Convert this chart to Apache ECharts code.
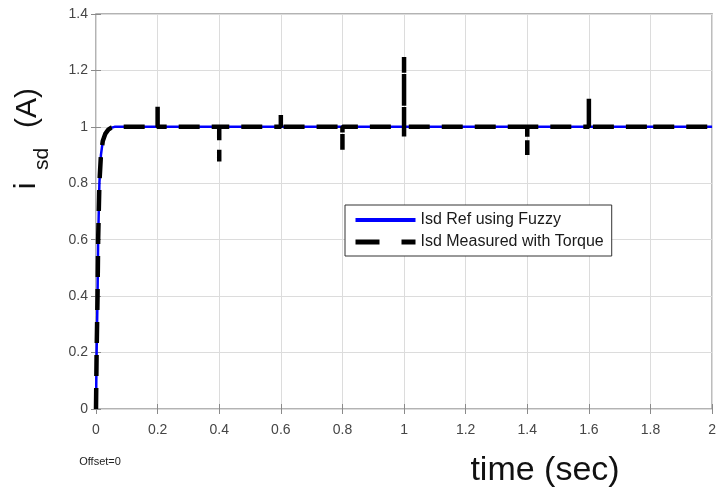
<!DOCTYPE html>
<html>
<head>
<meta charset="utf-8">
<script src="https://cdn.jsdelivr.net/npm/echarts@6/dist/echarts.min.js"></script>
<style>html,body{margin:0;padding:0;background:#fff;}#c{width:719px;height:492px;}</style>
</head>
<body>
<div id="c"></div>
<script>
// ---- data ----
const xTickLabels = ['0','0.2','0.4','0.6','0.8','1','1.2','1.4','1.6','1.8','2'];
const yTickLabels = ['0','0.2','0.4','0.6','0.8','1','1.2','1.4'];
const riseTime  = [0, 0.002, 0.005, 0.007, 0.011, 0.016, 0.022, 0.03, 0.04, 0.05, 0.06];
const riseValue = [0, 0.2,   0.4,   0.6,   0.8,   0.9,   0.95,  0.975, 0.99, 0.997, 1];
const endTime = 2;
const steadyValue = 1;
const spikeTime = [0.2,   0.4,   0.6,   0.8,   1.0,   1.4,  1.6,  1.8];
const spikeUp   = [1.078, 1,     1.042, 1,     1.248, 1,    1.10, 1];
const spikeDown = [1,     0.877, 1,     0.919, 0.966, 0.90, 1,    0.99];
const seriesNames = ['Isd Ref using Fuzzy', 'Isd Measured with Torque'];

// build series point lists from the arrays
const refData = riseTime.map((t, i) => [t, riseValue[i]]);
refData.push([endTime, steadyValue]);

const measData = riseTime.map((t, i) => [t, riseValue[i]]);
spikeTime.forEach((t, i) => {
  measData.push([t, steadyValue]);
  measData.push([t, spikeUp[i]]);
  measData.push([t, spikeDown[i]]);
  measData.push([t, steadyValue]);
});
measData.push([endTime, steadyValue]);

const FONT = 'Liberation Sans, Arial, Helvetica, sans-serif';
const chart = echarts.init(document.getElementById('c'), null, {renderer: 'canvas'});

const tickStyle = {show: true, inside: true, length: 5, lineStyle: {color: '#8a8a8a', width: 1}};
chart.setOption({
  animation: false,
  backgroundColor: '#fff',
  textStyle: {fontFamily: FONT},
  grid: {left: 96, right: 3, top: 14, bottom: 83, show: true, borderColor: '#9a9a9a', borderWidth: 1.5, backgroundColor: 'transparent'},
  xAxis: [{
    type: 'value', min: 0, max: 2, interval: 0.2, position: 'bottom',
    axisLine: {show: false},
    axisTick: tickStyle,
    axisLabel: {fontSize: 14, color: '#454545', margin: 14, fontFamily: FONT,
      formatter: v => xTickLabels[Math.round(v / 0.2)]},
    splitLine: {show: true, lineStyle: {color: '#dcdcdc', width: 1}}
  }, {
    type: 'value', min: 0, max: 2, interval: 0.2, position: 'top',
    axisLine: {show: false}, axisTick: tickStyle, axisLabel: {show: false}, splitLine: {show: false}
  }],
  yAxis: [{
    type: 'value', min: 0, max: 1.4, interval: 0.2, position: 'left',
    axisLine: {show: false},
    axisTick: tickStyle,
    axisLabel: {fontSize: 14, color: '#454545', margin: 8, fontFamily: FONT,
      formatter: v => yTickLabels[Math.round(v / 0.2)]},
    splitLine: {show: true, lineStyle: {color: '#dcdcdc', width: 1}}
  }, {
    type: 'value', min: 0, max: 1.4, interval: 0.2, position: 'right',
    axisLine: {show: false}, axisTick: tickStyle, axisLabel: {show: false}, splitLine: {show: false}
  }],
  legend: {
    orient: 'vertical', left: 345, top: 205,
    padding: [7, 8, 6, 8],
    itemWidth: 60, itemHeight: 12, itemGap: 6,
    borderColor: '#333', borderWidth: 1, backgroundColor: '#fff',
    itemStyle: {opacity: 0},
    textStyle: {fontSize: 16, color: '#1a1a1a', fontFamily: FONT},
    data: [
      {name: seriesNames[0], lineStyle: {width: 4}},
      {name: seriesNames[1], lineStyle: {type: [24, 22], width: 5}}
    ]
  },
  series: [{
    name: seriesNames[0], type: 'line', data: refData,
    symbol: 'none', showSymbol: false,
    lineStyle: {color: '#0000ff', width: 2.5},
    itemStyle: {color: '#0000ff'}, z: 2
  }, {
    name: seriesNames[1], type: 'line', data: measData,
    symbol: 'none', showSymbol: false,
    lineStyle: {color: '#000000', width: 4.5, type: [21, 12], cap: 'butt'},
    itemStyle: {color: '#000000'}, z: 3
  }],
  graphic: [
    {type: 'text', x: 27, y: 186, rotation: Math.PI / 2,
      style: {text: 'i', font: '30px ' + FONT, fill: '#111', align: 'center', verticalAlign: 'middle'}},
    {type: 'text', x: 42, y: 159, rotation: Math.PI / 2,
      style: {text: 'sd', font: '21px ' + FONT, fill: '#111', align: 'center', verticalAlign: 'middle'}},
    {type: 'text', x: 28, y: 108, rotation: Math.PI / 2,
      style: {text: '(A)', font: '30px ' + FONT, fill: '#111', align: 'center', verticalAlign: 'middle'}},
    {type: 'text', x: 545, y: 471,
      style: {text: 'time (sec)', font: '34px ' + FONT, fill: '#111', align: 'center', verticalAlign: 'middle'}},
    {type: 'text', x: 100, y: 462,
      style: {text: 'Offset=0', font: '11px ' + FONT, fill: '#222', align: 'center', verticalAlign: 'middle'}}
  ]
});
</script>
</body>
</html>
